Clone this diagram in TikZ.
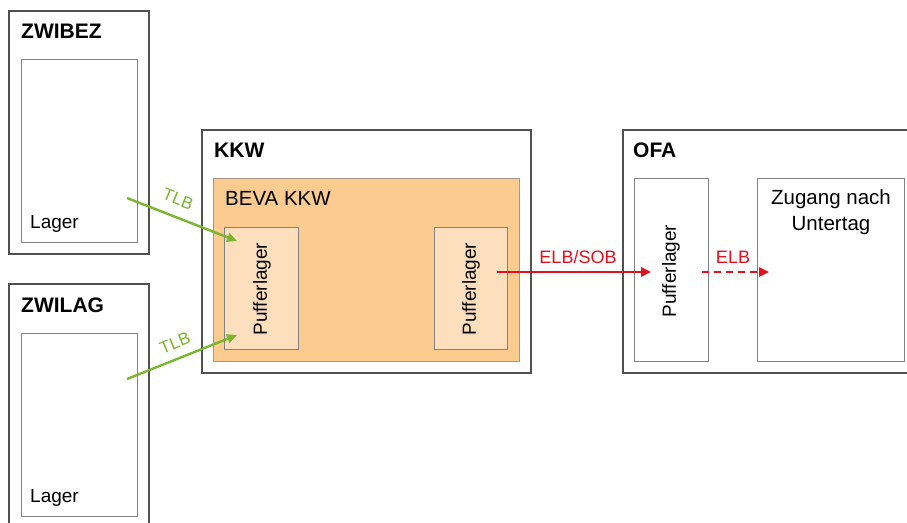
\documentclass[tikz,border=0pt]{standalone}
\usepackage{fontspec}
\setmainfont{Liberation Sans}
\usetikzlibrary{arrows.meta}
\definecolor{outerline}{RGB}{80,80,80}
\definecolor{innerline}{RGB}{130,130,130}
\definecolor{bevafill}{RGB}{251,203,143}
\definecolor{pufffill}{RGB}{253,223,190}
\definecolor{tlbgreen}{RGB}{122,182,48}
\definecolor{elbred}{RGB}{228,16,30}
\tikzset{
  outerbox/.style={draw=outerline, line width=1.3pt, fill=white, inner sep=0pt},
  innerbox/.style={draw=innerline, line width=1pt, fill=white, inner sep=0pt},
  bevabox/.style={draw=innerline!70!bevafill, line width=1pt, fill=bevafill, inner sep=0pt},
  puffbox/.style={draw=innerline, line width=1pt, fill=pufffill, inner sep=0pt},
  titletext/.style={font=\fontsize{21}{24}\selectfont\bfseries, anchor=west, inner sep=0pt},
  plaintext/.style={font=\fontsize{19}{22}\selectfont, inner sep=0pt},
  puffertext/.style={font=\fontsize{19}{22}\selectfont, rotate=90, inner sep=0pt},
  tlbarrow/.style={draw=tlbgreen, line width=2.4pt, -{Triangle[length=10pt,width=9pt]}},
  elbarrow/.style={draw=elbred, line width=2.4pt, -{Triangle[length=10pt,width=9pt]}},
  tlblabel/.style={font=\fontsize{17}{20}\selectfont, text=tlbgreen, inner sep=0pt},
  elblabel/.style={font=\fontsize{18}{20}\selectfont, text=elbred, inner sep=0pt},
}
\begin{document}
\begin{tikzpicture}[x=1pt,y=-1pt]
\useasboundingbox (0,0) rectangle (907,522);
\clip (0,0) rectangle (907,522);
% ZWIBEZ
\node[outerbox, minimum width=140pt, minimum height=243pt] (zwibez) at (79,132.5) {};
\node[innerbox, minimum width=116pt, minimum height=183pt] (zwibezlager) at (79,150.5) {};
\node[titletext] (zwibeztitle) at (21,31) {ZWIBEZ};
\node[plaintext, anchor=west] (zwibezlagertext) at (30,224) {Lager};
% ZWILAG
\node[outerbox, minimum width=140pt, minimum height=250pt] (zwilag) at (79,409) {};
\node[innerbox, minimum width=116pt, minimum height=183pt] (zwilaglager) at (79,424.5) {};
\node[titletext] (zwilagtitle) at (21,305) {ZWILAG};
\node[plaintext, anchor=west] (zwilaglagertext) at (30,498) {Lager};
% KKW
\node[outerbox, minimum width=329pt, minimum height=243pt] (kkw) at (366.5,251.5) {};
\node[titletext] (kkwtitle) at (214,150) {KKW};
\node[bevabox, minimum width=306pt, minimum height=183pt] (beva) at (366,269.5) {};
\node[plaintext, anchor=west, font=\fontsize{20.5}{24}\selectfont] (bevatitle) at (225,198) {BEVA KKW};
\node[puffbox, minimum width=74pt, minimum height=122pt] (pl1) at (261,288) {};
\node[puffertext] (pl1text) at (262,289) {Pufferlager};
\node[puffbox, minimum width=73pt, minimum height=122pt] (pl2) at (470.5,288) {};
\node[puffertext] (pl2text) at (471,289) {Pufferlager};
% OFA
\node[outerbox, minimum width=300pt, minimum height=243pt] (ofa) at (773,251.5) {};
\node[titletext] (ofatitle) at (633,150) {OFA};
\node[innerbox, minimum width=74pt, minimum height=183pt] (pl3) at (671,269.5) {};
\node[puffertext] (pl3text) at (671,271) {Pufferlager};
\node[innerbox, minimum width=147pt, minimum height=183pt] (zugang) at (830.5,269.5) {};
\node[plaintext, font=\fontsize{20.5}{26}\selectfont, align=center, anchor=north] (zugangtext) at (831,189) {Zugang nach\\Untertag};
% arrow end points
\coordinate (tlb1start) at (127,198);
\coordinate (tlb1end) at (237,241);
\coordinate (tlb2start) at (127,379);
\coordinate (tlb2end) at (237,335);
\coordinate (elbstart) at (497,272);
\coordinate (elbend) at (651,272);
\coordinate (elb2start) at (702,272);
\coordinate (elb2end) at (769,272);
% arrows
\draw[tlbarrow] (tlb1start) -- (tlb1end);
\node[tlblabel, rotate=-21.5] (tlb1label) at (178,199) {TLB};
\draw[tlbarrow] (tlb2start) -- (tlb2end);
\node[tlblabel, rotate=22] (tlb2label) at (175,343) {TLB};
\draw[elbarrow] (elbstart) -- (elbend);
\node[elblabel] (elblabel1) at (578,257) {ELB/SOB};
\draw[elbarrow, dashed, dash pattern=on 7pt off 5pt] (elb2start) -- (elb2end);
\node[elblabel] (elblabel2) at (733,257) {ELB};
\end{tikzpicture}
\end{document}
